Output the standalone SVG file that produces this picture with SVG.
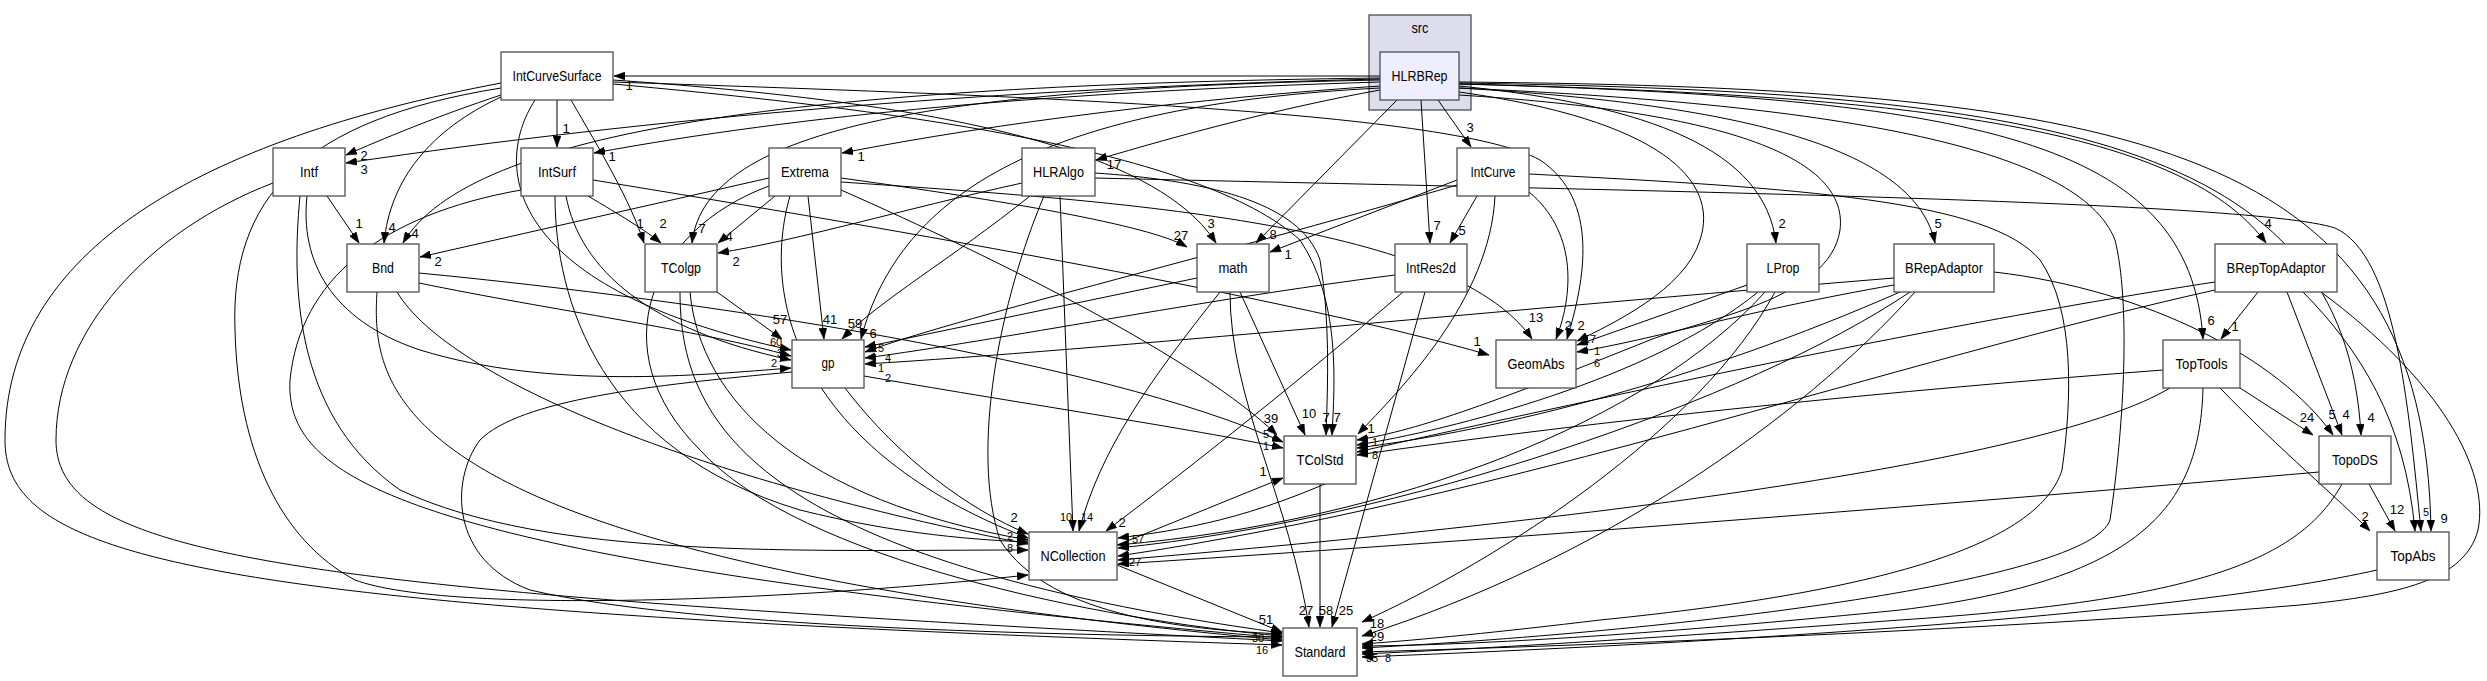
<svg xmlns="http://www.w3.org/2000/svg" width="2487" height="681" viewBox="0 0 2487 681">
<style>
.n rect{fill:#ffffff;stroke:#404040;stroke-width:1.2}
.t{font-family:"Liberation Sans",Arial,sans-serif;font-size:14px;text-anchor:middle;fill:#000}
.e path{fill:none;stroke:#000;stroke-width:1;marker-end:url(#ah)}
.l{font-family:"Liberation Sans",Arial,sans-serif;font-size:13px;text-anchor:middle;fill:#000}
.s{font-size:11px}
</style>
<defs>
<marker id="ah" viewBox="0 0 11 8" refX="11" refY="4" markerWidth="11" markerHeight="8" markerUnits="userSpaceOnUse" orient="auto">
<path d="M0,0 L11,4 L0,8 z" fill="#000" stroke="#000" stroke-width="0.5"/>
</marker>
</defs>
<rect width="2487" height="681" fill="#ffffff"/>
<g id="cluster_src">
<rect x="1369" y="15" width="102" height="95" fill="#ddddee" stroke="#404040" stroke-width="1.2"/>
<text class="t" x="1420" y="33" textLength="17" lengthAdjust="spacingAndGlyphs">src</text>
</g>
<g id="edges" class="e">
<path d="M1380,76 L614,76"/>
<path d="M1380,79 C1000,88 650,118 346,163"/>
<path d="M1380,82 C1050,92 800,115 594,153"/>
<path d="M1380,86 C1200,98 1000,122 842,153"/>
<path d="M1380,90 C1280,108 1180,135 1096,160"/>
<path d="M1438,100 L1471,147"/>
<path d="M1380,78 C800,85 470,130 403,243"/>
<path d="M1380,80 C950,88 705,125 692,243"/>
<path d="M1397,100 L1256,243"/>
<path d="M1421,100 L1430,243"/>
<path d="M1459,86 C1650,105 1765,150 1776,243"/>
<path d="M1459,88 C1750,105 1915,150 1935,243"/>
<path d="M1459,84 C1900,95 2180,125 2266,243"/>
<path d="M1459,84 C1980,98 2190,140 2203,339"/>
<path d="M1459,83 C2050,92 2345,140 2361,435"/>
<path d="M1459,82 C2150,88 2425,150 2431,531"/>
<path d="M1459,92 C1660,120 1720,180 1700,240 C1685,290 1610,325 1577,341"/>
<path d="M1380,88 C1050,105 900,190 861,339"/>
<path d="M1459,95 C1700,110 1850,150 1840,230 C1830,300 1700,320 1650,340 C1500,400 1420,430 1357,440"/>
<path d="M1459,88 C1850,105 2080,150 2115,240 C2130,300 2125,420 2110,520 C2090,580 1700,630 1362,648"/>
<path d="M501,95 C440,115 380,140 346,155"/>
<path d="M557,100 L557,147"/>
<path d="M501,97 C430,130 390,180 384,243"/>
<path d="M571,100 C600,150 630,200 644,243"/>
<path d="M613,80 C900,100 1150,140 1216,243"/>
<path d="M613,82 C1000,95 1450,110 1540,160 C1600,200 1585,280 1567,339"/>
<path d="M613,84 C900,110 1200,150 1300,240 C1340,300 1335,380 1332,435"/>
<path d="M535,100 C490,170 510,290 791,350"/>
<path d="M501,88 C300,120 230,200 235,330 C238,450 280,540 355,580 C450,615 800,600 1028,575"/>
<path d="M501,83 C200,140 5,250 5,440 C5,560 200,610 1282,645"/>
<path d="M327,196 L359,243"/>
<path d="M307,196 C300,260 330,320 420,350 C550,390 700,375 791,368"/>
<path d="M300,196 C290,300 300,420 400,490 C550,560 800,550 1028,550"/>
<path d="M273,183 C150,230 56,330 56,440 C56,560 300,590 1282,641"/>
<path d="M588,196 C620,215 645,230 661,243"/>
<path d="M593,180 C900,230 1300,300 1489,355"/>
<path d="M566,196 C580,270 650,330 791,360"/>
<path d="M555,196 C555,300 600,450 800,510 C900,535 980,540 1028,542"/>
<path d="M521,190 C380,215 300,280 290,380 C285,480 400,560 1282,638"/>
<path d="M769,178 L420,257"/>
<path d="M775,196 L718,243"/>
<path d="M808,196 L824,339"/>
<path d="M841,178 C1000,200 1150,225 1187,247"/>
<path d="M841,182 C1100,200 1450,220 1532,339"/>
<path d="M841,190 C1000,260 1200,360 1277,435"/>
<path d="M790,196 C760,300 800,450 1028,538"/>
<path d="M769,186 C650,230 600,350 700,450 C800,560 1100,620 1282,636"/>
<path d="M1022,183 C900,210 800,240 718,253"/>
<path d="M1030,196 C950,260 880,300 842,339"/>
<path d="M1095,173 C1200,180 1300,200 1320,260 C1330,320 1328,380 1326,435"/>
<path d="M1060,196 L1073,531"/>
<path d="M1044,196 C1000,300 970,450 1000,540 C1050,620 1200,630 1282,634"/>
<path d="M1095,178 C1600,190 2250,200 2335,228 C2395,255 2408,400 2421,531"/>
<path d="M1477,196 L1450,243"/>
<path d="M1457,180 L1270,252"/>
<path d="M1457,185 C1200,260 950,320 865,352"/>
<path d="M1529,192 C1575,230 1575,290 1556,339"/>
<path d="M1495,196 C1490,300 1400,390 1358,434"/>
<path d="M1529,174 C1800,188 1990,200 2040,260 C2075,310 2072,400 2062,470 C2040,540 1900,590 1600,620 C1500,632 1420,640 1362,644"/>
<path d="M419,283 C550,310 700,330 791,356"/>
<path d="M419,273 C700,300 1100,360 1283,442"/>
<path d="M397,292 C450,380 700,480 1028,544"/>
<path d="M377,292 C370,400 400,560 1282,640"/>
<path d="M717,292 L782,339"/>
<path d="M690,292 C700,400 800,500 1028,540"/>
<path d="M680,292 C680,420 750,560 1282,633"/>
<path d="M1197,278 L865,347"/>
<path d="M1240,292 L1305,435"/>
<path d="M1220,292 C1150,380 1100,450 1079,531"/>
<path d="M1230,292 C1230,400 1290,500 1309,627"/>
<path d="M1395,275 C1200,300 1000,340 865,358"/>
<path d="M1403,292 C1300,380 1200,460 1106,531"/>
<path d="M1425,292 L1332,627"/>
<path d="M1747,285 L1577,345"/>
<path d="M1758,292 C1650,380 1450,430 1357,445"/>
<path d="M1765,292 C1650,420 1400,520 1118,545"/>
<path d="M1775,292 C1700,430 1500,560 1362,622"/>
<path d="M1894,278 C1500,310 1100,350 865,364"/>
<path d="M1894,285 C1750,310 1650,340 1577,352"/>
<path d="M1900,292 C1700,380 1500,430 1357,448"/>
<path d="M1910,292 C1750,400 1400,520 1118,548"/>
<path d="M1915,292 C1800,420 1600,560 1362,636"/>
<path d="M1994,272 C2150,290 2280,360 2333,435"/>
<path d="M2258,292 L2221,339"/>
<path d="M2287,292 L2342,435"/>
<path d="M2303,292 C2360,350 2405,420 2415,531"/>
<path d="M2321,292 C2440,380 2490,470 2478,530 C2465,580 2400,595 2300,605 C2000,630 1600,645 1362,652"/>
<path d="M2215,282 C1900,330 1500,420 1357,452"/>
<path d="M2215,290 C1900,360 1500,500 1118,556"/>
<path d="M2240,388 L2313,435"/>
<path d="M2220,388 C2280,450 2340,500 2370,531"/>
<path d="M2163,370 C1900,390 1600,420 1357,455"/>
<path d="M2170,388 C2050,460 1600,520 1118,560"/>
<path d="M2203,388 C2200,500 2150,580 1900,610 C1700,630 1500,645 1362,646"/>
<path d="M2369,484 L2395,531"/>
<path d="M2319,472 C2000,500 1500,540 1118,564"/>
<path d="M2342,484 C2300,560 2200,600 1900,620 C1700,635 1500,648 1362,654"/>
<path d="M2377,570 C2200,610 1800,640 1362,657"/>
<path d="M864,376 C1000,400 1200,430 1283,448"/>
<path d="M845,388 C900,460 970,510 1028,534"/>
<path d="M792,372 C650,385 520,400 480,440 C450,480 450,560 530,590 C700,630 1100,636 1282,637"/>
<path d="M1320,484 L1320,627"/>
<path d="M1356,470 C1250,520 1180,530 1118,538"/>
<path d="M1117,545 C1180,520 1240,495 1283,478"/>
<path d="M1117,565 L1282,632"/>
</g>
<g id="edge_labels">
<text class="l" x="629" y="90">1</text>
<text class="l" x="364" y="174">3</text>
<text class="l" x="612" y="161">1</text>
<text class="l" x="861" y="161">1</text>
<text class="l" x="1114" y="169">17</text>
<text class="l" x="1470" y="132">3</text>
<text class="l" x="415" y="238">4</text>
<text class="l" x="702" y="233">7</text>
<text class="l" x="1273" y="239">8</text>
<text class="l" x="1437" y="230">7</text>
<text class="l" x="1782" y="228">2</text>
<text class="l" x="1938" y="228">5</text>
<text class="l" x="2268" y="228">4</text>
<text class="l" x="2211" y="325">6</text>
<text class="l" x="2371" y="422">4</text>
<text class="l" x="2444" y="523">9</text>
<text class="l s" x="1590" y="343">17</text>
<text class="l" x="873" y="338">6</text>
<text class="l" x="364" y="160">2</text>
<text class="l" x="566" y="133">1</text>
<text class="l" x="392" y="232">4</text>
<text class="l" x="640" y="228">1</text>
<text class="l" x="1211" y="228">3</text>
<text class="l" x="1581" y="330">2</text>
<text class="l" x="1337" y="422">7</text>
<text class="l" x="359" y="228">1</text>
<text class="l" x="663" y="228">2</text>
<text class="l" x="1477" y="346">1</text>
<text class="l" x="438" y="266">2</text>
<text class="l" x="729" y="241">4</text>
<text class="l" x="830" y="324">41</text>
<text class="l" x="1181" y="240">27</text>
<text class="l" x="1536" y="322">13</text>
<text class="l" x="1271" y="423">39</text>
<text class="l" x="736" y="266">2</text>
<text class="l" x="855" y="328">59</text>
<text class="l" x="1326" y="422">7</text>
<text class="l s" x="1066" y="521">10</text>
<text class="l s" x="2426" y="516">5</text>
<text class="l" x="1462" y="235">5</text>
<text class="l" x="1288" y="259">1</text>
<text class="l" x="1568" y="330">2</text>
<text class="l" x="1371" y="433">1</text>
<text class="l" x="780" y="324">57</text>
<text class="l" x="1309" y="418">10</text>
<text class="l s" x="1087" y="521">14</text>
<text class="l" x="1122" y="527">2</text>
<text class="l" x="1346" y="615">25</text>
<text class="l" x="1306" y="615">27</text>
<text class="l" x="1326" y="615">58</text>
<text class="l" x="1377" y="628">18</text>
<text class="l" x="1377" y="641">29</text>
<text class="l" x="2332" y="419">5</text>
<text class="l" x="2235" y="331">1</text>
<text class="l" x="2346" y="419">4</text>
<text class="l" x="2307" y="422">24</text>
<text class="l" x="2365" y="521">2</text>
<text class="l" x="2397" y="514">12</text>
<text class="l s" x="881" y="352">5</text>
<text class="l s" x="888" y="362">4</text>
<text class="l s" x="881" y="372">1</text>
<text class="l s" x="888" y="382">2</text>
<text class="l s" x="776" y="346">60</text>
<text class="l s" x="780" y="357">3</text>
<text class="l s" x="774" y="367">2</text>
<text class="l s" x="1597" y="355">1</text>
<text class="l s" x="1597" y="367">6</text>
<text class="l" x="1014" y="522">2</text>
<text class="l s" x="1010" y="540">2</text>
<text class="l s" x="1010" y="552">8</text>
<text class="l s" x="1138" y="543">57</text>
<text class="l s" x="1135" y="566">27</text>
<text class="l s" x="1266" y="438">5</text>
<text class="l s" x="1266" y="450">1</text>
<text class="l" x="1263" y="476">1</text>
<text class="l s" x="1375" y="446">1</text>
<text class="l s" x="1375" y="459">8</text>
<text class="l" x="1266" y="624">51</text>
<text class="l s" x="1258" y="642">30</text>
<text class="l s" x="1262" y="654">16</text>
<text class="l s" x="1372" y="662">35</text>
<text class="l s" x="1388" y="662">8</text>
</g>
<g id="node_IntCurveSurface" class="n"><rect x="501" y="52" width="112" height="48"/><text class="t" x="557" y="81" textLength="89" lengthAdjust="spacingAndGlyphs">IntCurveSurface</text></g>
<g id="node_HLRBRep" class="n"><rect x="1380" y="52" width="79" height="48" style="fill:#eeeeff"/><text class="t" x="1419.5" y="81" textLength="56" lengthAdjust="spacingAndGlyphs">HLRBRep</text></g>
<g id="node_Intf" class="n"><rect x="273" y="148" width="72" height="48"/><text class="t" x="309" y="177" textLength="18" lengthAdjust="spacingAndGlyphs">Intf</text></g>
<g id="node_IntSurf" class="n"><rect x="521" y="148" width="72" height="48"/><text class="t" x="557" y="177" textLength="38" lengthAdjust="spacingAndGlyphs">IntSurf</text></g>
<g id="node_Extrema" class="n"><rect x="769" y="148" width="72" height="48"/><text class="t" x="805" y="177" textLength="48" lengthAdjust="spacingAndGlyphs">Extrema</text></g>
<g id="node_HLRAlgo" class="n"><rect x="1022" y="148" width="73" height="48"/><text class="t" x="1058.5" y="177" textLength="51" lengthAdjust="spacingAndGlyphs">HLRAlgo</text></g>
<g id="node_IntCurve" class="n"><rect x="1457" y="148" width="72" height="48"/><text class="t" x="1493" y="177" textLength="45" lengthAdjust="spacingAndGlyphs">IntCurve</text></g>
<g id="node_Bnd" class="n"><rect x="347" y="244" width="72" height="48"/><text class="t" x="383" y="273" textLength="22" lengthAdjust="spacingAndGlyphs">Bnd</text></g>
<g id="node_TColgp" class="n"><rect x="645" y="244" width="72" height="48"/><text class="t" x="681" y="273" textLength="40" lengthAdjust="spacingAndGlyphs">TColgp</text></g>
<g id="node_math" class="n"><rect x="1197" y="244" width="72" height="48"/><text class="t" x="1233" y="273" textLength="29" lengthAdjust="spacingAndGlyphs">math</text></g>
<g id="node_IntRes2d" class="n"><rect x="1395" y="244" width="72" height="48"/><text class="t" x="1431" y="273" textLength="50" lengthAdjust="spacingAndGlyphs">IntRes2d</text></g>
<g id="node_LProp" class="n"><rect x="1747" y="244" width="72" height="48"/><text class="t" x="1783" y="273" textLength="33" lengthAdjust="spacingAndGlyphs">LProp</text></g>
<g id="node_BRepAdaptor" class="n"><rect x="1894" y="244" width="100" height="48"/><text class="t" x="1944" y="273" textLength="78" lengthAdjust="spacingAndGlyphs">BRepAdaptor</text></g>
<g id="node_BRepTopAdaptor" class="n"><rect x="2215" y="244" width="122" height="48"/><text class="t" x="2276" y="273" textLength="99" lengthAdjust="spacingAndGlyphs">BRepTopAdaptor</text></g>
<g id="node_gp" class="n"><rect x="792" y="340" width="72" height="48"/><text class="t" x="828" y="368" textLength="13" lengthAdjust="spacingAndGlyphs">gp</text></g>
<g id="node_GeomAbs" class="n"><rect x="1496" y="340" width="80" height="48"/><text class="t" x="1536" y="369" textLength="57" lengthAdjust="spacingAndGlyphs">GeomAbs</text></g>
<g id="node_TopTools" class="n"><rect x="2163" y="340" width="77" height="48"/><text class="t" x="2201.5" y="369" textLength="52" lengthAdjust="spacingAndGlyphs">TopTools</text></g>
<g id="node_TColStd" class="n"><rect x="1284" y="436" width="72" height="48"/><text class="t" x="1320" y="465" textLength="47" lengthAdjust="spacingAndGlyphs">TColStd</text></g>
<g id="node_TopoDS" class="n"><rect x="2319" y="436" width="72" height="48"/><text class="t" x="2355" y="465" textLength="46" lengthAdjust="spacingAndGlyphs">TopoDS</text></g>
<g id="node_NCollection" class="n"><rect x="1029" y="532" width="88" height="48"/><text class="t" x="1073" y="561" textLength="65" lengthAdjust="spacingAndGlyphs">NCollection</text></g>
<g id="node_TopAbs" class="n"><rect x="2377" y="532" width="72" height="48"/><text class="t" x="2413" y="561" textLength="45" lengthAdjust="spacingAndGlyphs">TopAbs</text></g>
<g id="node_Standard" class="n"><rect x="1283" y="628" width="74" height="48"/><text class="t" x="1320" y="657" textLength="51" lengthAdjust="spacingAndGlyphs">Standard</text></g>
</svg>
